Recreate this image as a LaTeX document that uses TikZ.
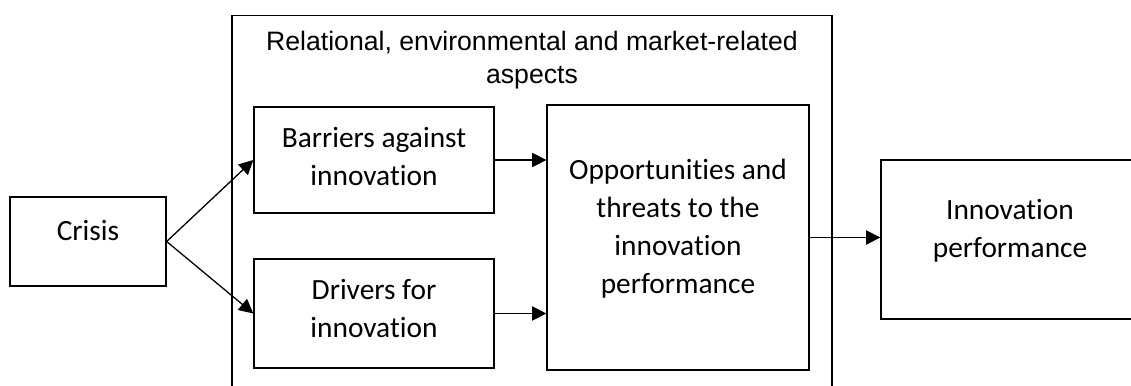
\documentclass[tikz,border=0pt]{standalone}
\usepackage{fontspec}
\setmainfont{Carlito}[Ligatures=NoCommon]
\newfontfamily\titlefont{Liberation Sans}
\usetikzlibrary{arrows.meta,positioning}

\tikzset{
  box/.style={draw,line width=0.5pt,inner sep=0pt},
  boxtext/.style={align=center,font=\fontsize{11.3}{14.6}\selectfont},
  link/.style={-{Triangle[length=5.5pt,width=5.5pt]},line width=0.5pt},
}

\begin{document}
\begin{tikzpicture}[x=0.01352cm,y=-0.01352cm]
  \useasboundingbox (0,0) rectangle (1131,385);

  \node[box,minimum width=8.112cm,minimum height=5.4cm,anchor=north] (frame) at (532,15) {};
  \node[align=center,font=\titlefont\fontsize{10.25}{12.7}\selectfont] (aspects) at (532,60)
    {Relational, environmental and market-related\\aspects};

  \node[box,minimum width=2.109cm,minimum height=1.203cm,
        label={[boxtext,yshift=4.4pt]center:Crisis}] (crisis) at (88,241.5) {};
  \node[box,minimum width=3.245cm,minimum height=1.433cm,
        label={[boxtext,yshift=1.5pt]center:Barriers against\\innovation}] (barriers) at (374,160) {};
  \node[box,minimum width=3.245cm,minimum height=1.474cm,
        label={[boxtext,yshift=2pt]center:Drivers for\\innovation}] (drivers) at (374,313.5) {};
  \node[box,minimum width=3.542cm,minimum height=3.583cm,
        label={[boxtext,yshift=3.4pt]center:Opportunities and\\threats to the\\innovation\\performance}] (chances) at (678,237.5) {};
  \node[box,minimum width=3.488cm,minimum height=2.150cm,
        label={[boxtext,yshift=3.2pt]center:Innovation\\performance}] (performance) at (1010,239.5) {};

  \draw[link] (crisis.east) -- (barriers.west);
  \draw[link] (crisis.east) -- (drivers.west);
  \draw[link] (barriers.east) -- (barriers.east -| chances.west);
  \draw[link] (drivers.east) -- (drivers.east -| chances.west);
  \draw[link] (chances.east) -- (chances.east -| performance.west);
\end{tikzpicture}
\end{document}
